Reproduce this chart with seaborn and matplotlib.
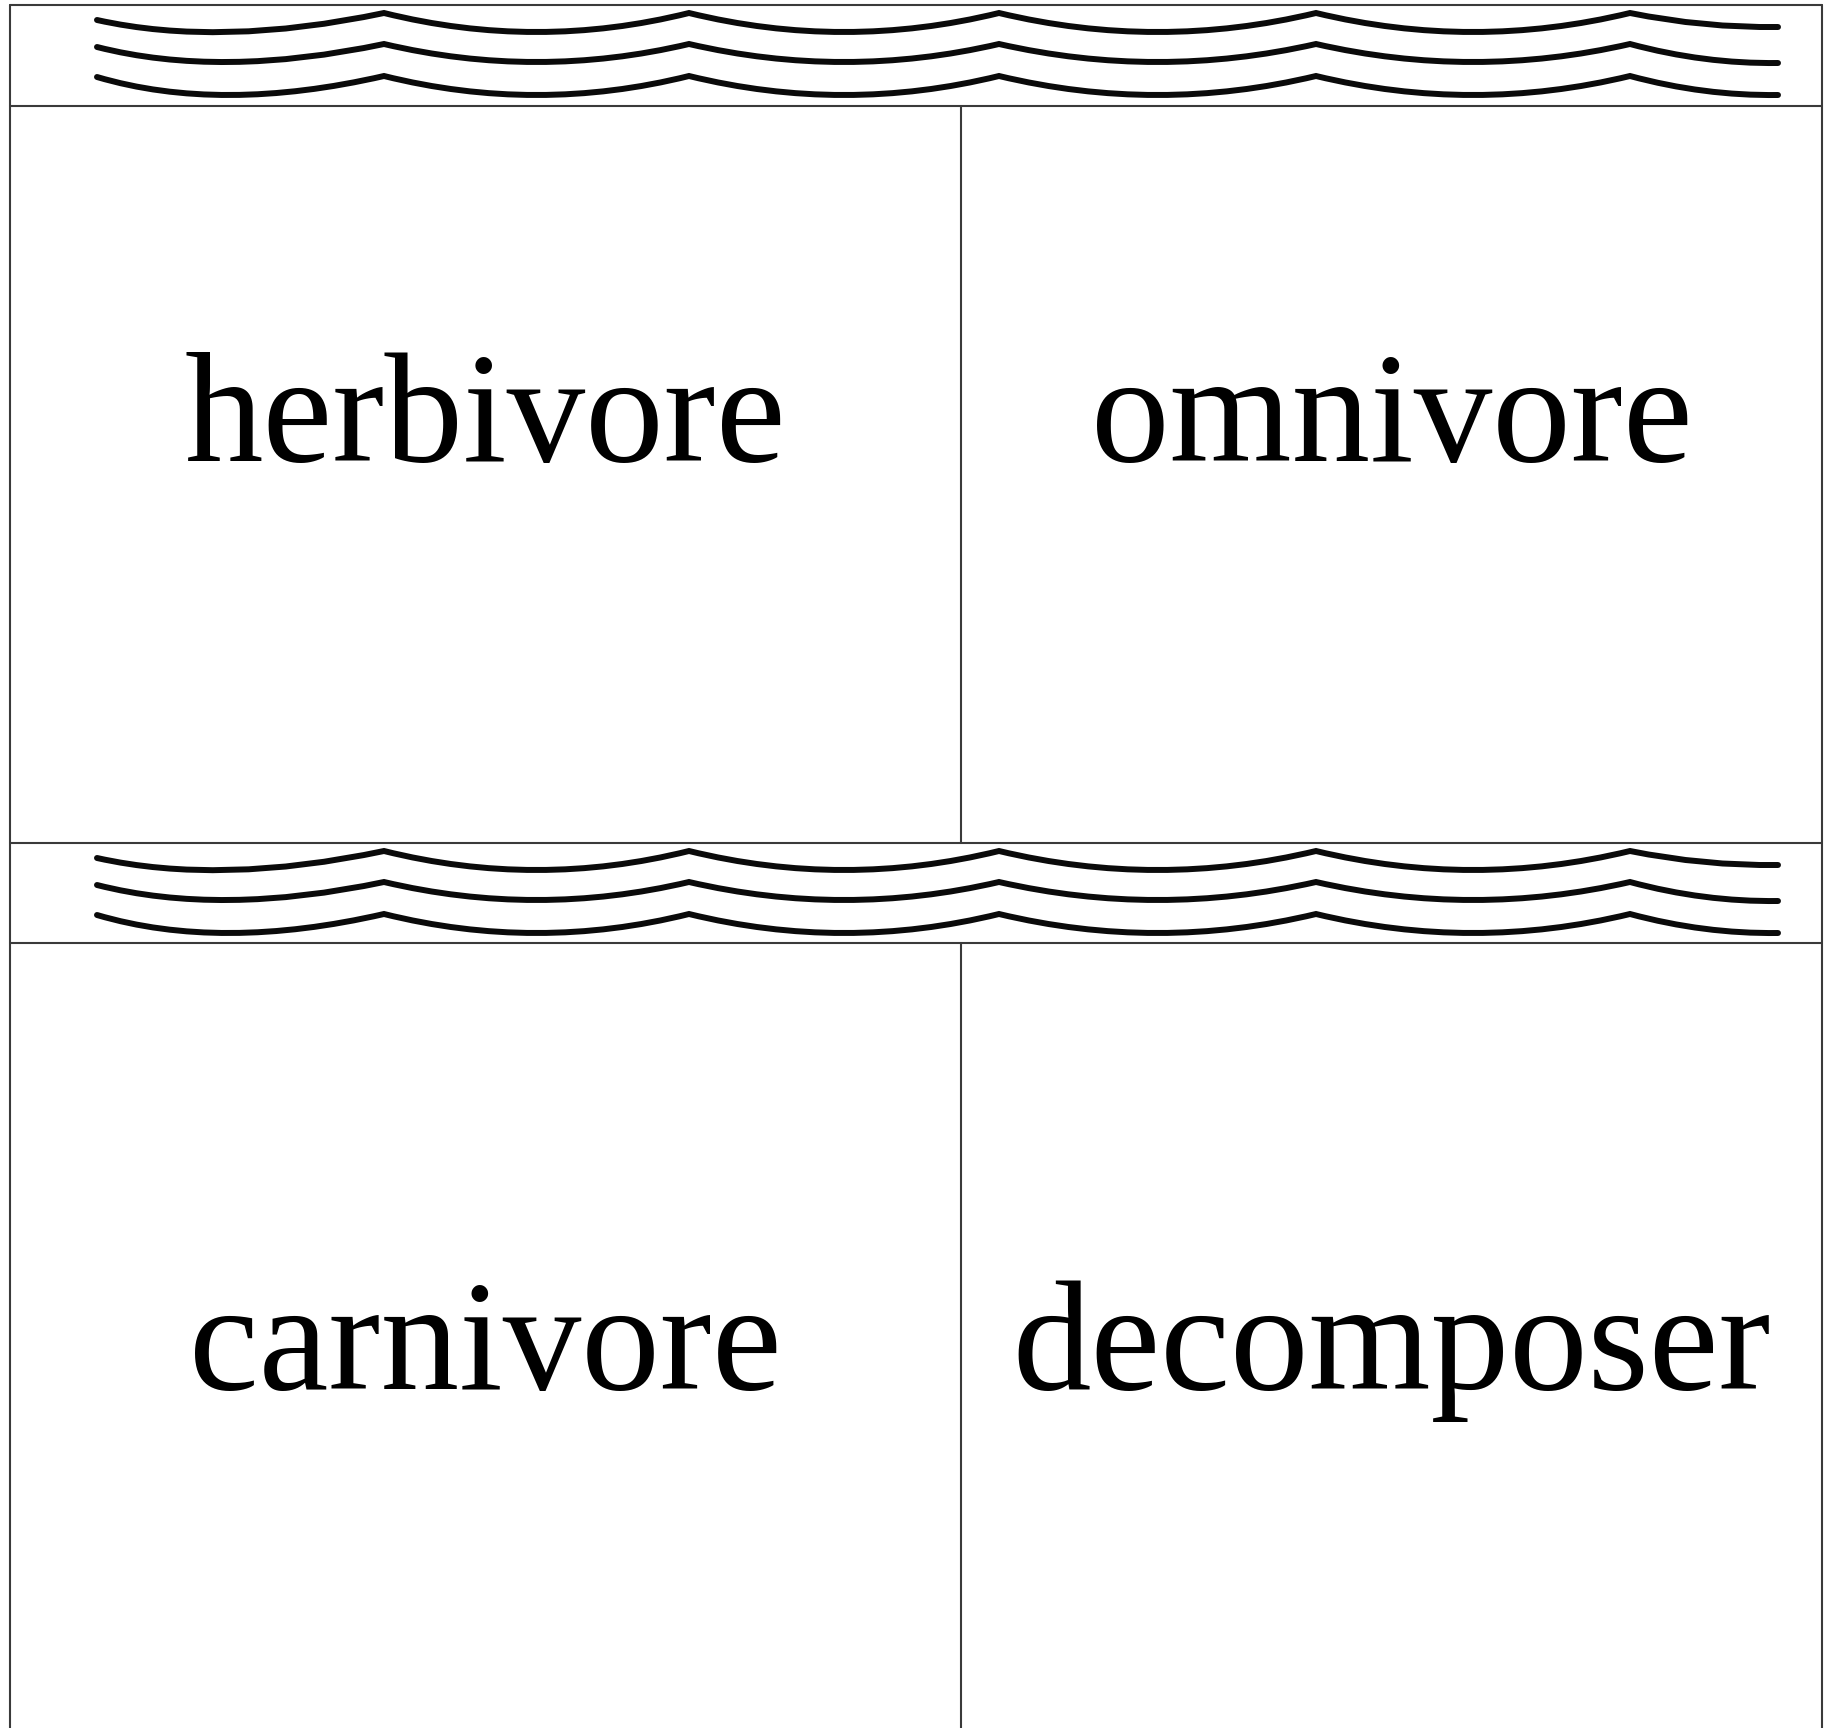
import numpy as np
import pandas as pd
import matplotlib
matplotlib.use("Agg")
import matplotlib.pyplot as plt
from matplotlib.path import Path
import seaborn as sns

# ---- content ----
cell_labels = ["herbivore", "omnivore", "carnivore", "decomposer"]
row_baselines = [461, 1389]          # baseline y of each label row (px)

# ---- layout (pixel space) ----
W, H = 1826, 1728
left_x, right_x, mid_x = 10, 1822, 961
band_tops = [5, 843]
band_bottoms = [106, 943]

# ---- wave garland (px, relative to first band) ----
peak_x = [384, 689, 999, 1316, 1630]
wave_start_x = 97
wave_end_x = 1778
line_start_y = [20, 47, 77]
line_peak_y = [13, 44, 76]
line_trough_sag = [19, 18, 19]
line_end_y = [27, 63, 95]
band_shift = [0, 838]

sns.set_theme(style="white")
plt.rcParams['font.family'] = ['Liberation Serif', 'DejaVu Serif']

fig = plt.figure(figsize=(W / 100, H / 100), dpi=100)
ax = fig.add_axes([0, 0, 1, 1])

border_col = "#3a3a3a"
blw = 1.5

# outer frame (no bottom edge, continues off page)
ax.plot([left_x, left_x], [band_tops[0], H], color=border_col, lw=blw)
ax.plot([right_x, right_x], [band_tops[0], H], color=border_col, lw=blw)
ax.plot([left_x, right_x], [band_tops[0], band_tops[0]], color=border_col, lw=blw)
for yb in band_bottoms[:1] + band_tops[1:] + band_bottoms[1:]:
    ax.plot([left_x, right_x], [yb, yb], color=border_col, lw=blw)
# vertical dividers
ax.plot([mid_x, mid_x], [band_bottoms[0], band_tops[1]], color=border_col, lw=blw)
ax.plot([mid_x, mid_x], [band_bottoms[1], H], color=border_col, lw=blw)


def wave_path(sy, py, sag, ey, shift):
    verts = [(wave_start_x, sy + shift)]
    codes = [Path.MOVETO]
    c_y = 2 * (py + sag) - 0.5 * (sy + py)
    verts += [((wave_start_x + peak_x[0]) / 2 - 20, c_y + shift), (peak_x[0], py + shift)]
    codes += [Path.CURVE3, Path.CURVE3]
    for a, b in zip(peak_x[:-1], peak_x[1:]):
        verts += [((a + b) / 2, py + 2 * sag + shift), (b, py + shift)]
        codes += [Path.CURVE3, Path.CURVE3]
    verts += [((peak_x[-1] + wave_end_x) / 2, ey + 1 + shift), (wave_end_x, ey + shift)]
    codes += [Path.CURVE3, Path.CURVE3]
    return Path(verts, codes)


for shift in band_shift:
    for sy, py, sag, ey in zip(line_start_y, line_peak_y, line_trough_sag, line_end_y):
        p = wave_path(sy, py, sag, ey, shift)
        poly = p.to_polygons(closed_only=False)[0]
        df = pd.DataFrame({"x": poly[:, 0], "y": poly[:, 1]})
        sns.lineplot(data=df, x="x", y="y", sort=False, estimator=None,
                     color="#0a0a0a", lw=4.3, ax=ax, solid_capstyle="round",
                     solid_joinstyle="miter")

ax.set_xlim(0, W)
ax.set_ylim(H, 0)
ax.axis("off")

col_centers = [(left_x + mid_x) / 2, (mid_x + right_x) / 2]
for i, lab in enumerate(cell_labels):
    r = i // 2
    c = i % 2
    ax.text(col_centers[c], row_baselines[r], lab, ha="center", va="baseline",
            fontsize=113, color="black", family=["Liberation Serif", "DejaVu Serif"])

fig.savefig("out.png", dpi=100, facecolor="white")
